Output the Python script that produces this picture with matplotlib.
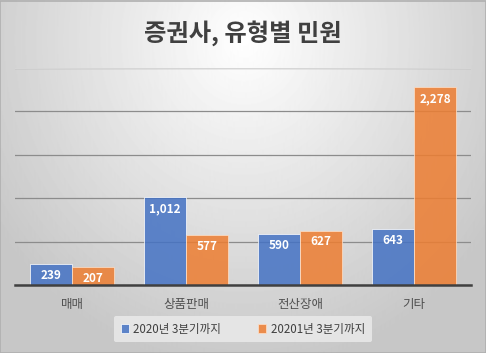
import numpy as np
import matplotlib
matplotlib.use("Agg")
import matplotlib.pyplot as plt

plt.rcParams['font.family'] = ['Noto Sans CJK KR', 'DejaVu Sans']

categories = ["매매", "상품판매", "전산장애", "기타"]
series_names = ["2020년 3분기까지", "20201년 3분기까지"]
values_2020 = [239, 1012, 590, 643]
values_2021 = [207, 577, 627, 2278]
title = "증권사, 유형별 민원"

blue = "#4472C4"
orange = "#ED7D31"

fig = plt.figure(figsize=(4.86, 3.53), dpi=100)

# radial gradient background
bg = fig.add_axes([0, 0, 1, 1])
yy, xx = np.mgrid[0:353, 0:486]
r = np.sqrt(((xx - 243) / 300.0) ** 2 + ((yy - 40) / 330.0) ** 2)
shade = np.clip(1.0 - 0.22 * r, 0.78, 1.0)
bg.imshow(shade, cmap="gray", vmin=0, vmax=1, aspect="auto",
          extent=[0, 1, 0, 1], origin="upper")
bg.set_xlim(0, 1)
bg.set_ylim(0, 1)
bg.axis("off")
bg.add_patch(plt.Rectangle((0.001, 0.001), 0.998, 0.997, fill=False,
                           edgecolor="#B0B0B0", lw=1.2))

ax = fig.add_axes([15 / 486, (353 - 285) / 353, 456 / 486, 217 / 353])
ax.patch.set_alpha(0)

x = np.arange(len(categories))
w = 0.368
b1 = ax.bar(x - w / 2, values_2020, w, color=blue, alpha=0.85,
            edgecolor="#FFFFFF", linewidth=0.6, zorder=3)
b2 = ax.bar(x + w / 2, values_2021, w, color=orange, alpha=0.85,
            edgecolor="#FFE0C8", linewidth=0.6, zorder=3)

for bars, vals in ((b1, values_2020), (b2, values_2021)):
    for rect, v in zip(bars, vals):
        ax.text(rect.get_x() + rect.get_width() / 2, v - 55, f"{v:,}",
                ha="center", va="top", color="white", fontsize=8.5,
                fontweight="bold", zorder=5)

ax.set_xlim(-0.5, len(categories) - 0.5)
ax.set_ylim(0, 2500)
ax.set_yticks(np.arange(0, 2501, 500))
ax.set_axisbelow(True)
ax.yaxis.grid(True, color="#8C8C8C", lw=0.9)
ax.tick_params(axis="y", left=False, labelleft=False)
ax.tick_params(axis="x", bottom=False, labelsize=9, labelcolor="#505050", pad=6)
ax.set_xticks(x)
ax.set_xticklabels(categories)
for s in ("top", "right", "left"):
    ax.spines[s].set_visible(False)
ax.spines["bottom"].set_color("#404040")
ax.spines["bottom"].set_linewidth(1.8)
ax.spines["bottom"].set_zorder(6)
ax.axhline(2500, color="#D6D6D6", lw=0.9, zorder=1)

fig.text(0.5, 1 - 33 / 353, title, ha="center", va="center",
         fontsize=17.5, fontweight="bold", color="#404040")

leg = fig.legend([b1, b2], series_names, loc="center",
                 bbox_to_anchor=(243 / 486, 1 - 329 / 353), ncol=2,
                 fontsize=8.3, frameon=True, handlelength=0.7,
                 handleheight=0.7, columnspacing=3.2, handletextpad=0.4,
                 borderpad=0.6, borderaxespad=0)
leg.get_frame().set_facecolor("#E8E8E8")
leg.get_frame().set_edgecolor("none")
leg.get_frame().set_alpha(0.9)
for t in leg.get_texts():
    t.set_color("#404040")

fig.savefig("out.png", dpi=100)
